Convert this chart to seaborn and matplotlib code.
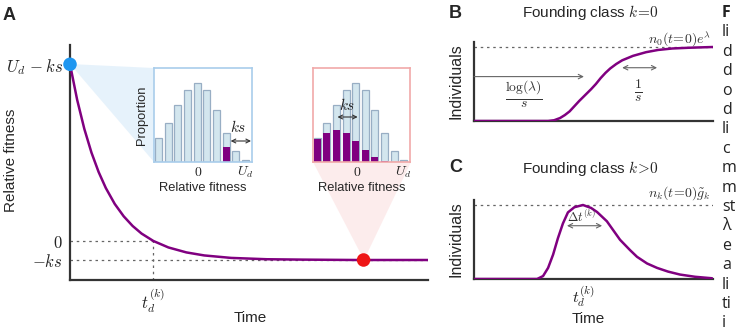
import matplotlib
matplotlib.use("Agg")
import matplotlib.pyplot as plt
from matplotlib.patches import Polygon
import seaborn as sns

# ---------------- data ----------------
# Panel A: relative fitness of the founding class over time
a_time = [0, 0.2, 0.4, 0.6, 0.8, 1.0, 1.25, 1.5, 1.75, 2.0, 2.33, 2.75, 3.25,
          3.75, 4.5, 5.5, 6.5, 8.0, 10.0]
a_fitness = [9.3, 7.43, 5.90, 4.65, 3.63, 2.79, 1.95, 1.30, 0.79, 0.39, 0.0,
             -0.34, -0.60, -0.76, -0.89, -0.96, -0.98, -1.0, -1.0]
a_dot_time = [0.0, 8.2]
a_dot_fitness = [9.3, -1.0]
a_dot_name = ["start", "late"]
a_yticks = [9.3, 0, -1]
a_yticklabels = [r"$U_d\,-ks$", r"$0$", r"$-ks$"]
a_td = 2.33

# Insets: fitness distribution (proportion per fitness bin)
bins = list(range(10))
proportion = [0.24, 0.39, 0.57, 0.72, 0.79, 0.72, 0.52, 0.29, 0.11, 0.02]
class_early = [0, 0, 0, 0, 0, 0, 0, 0.146, 0, 0]
class_late = [0.23, 0.29, 0.32, 0.29, 0.21, 0.12, 0.05, 0.01, 0, 0]
inset_ticks = [4.1, 9.0]
inset_ticklabels = [r"$0$", r"$U_d$"]

# Panel B: founding class k=0
b_time = [0, 0.31, 0.335, 0.36, 0.38, 0.40, 0.42, 0.44, 0.465, 0.49, 0.51,
          0.53, 0.55, 0.57, 0.595, 0.62, 0.665, 0.72, 0.77, 0.83, 0.9, 1.0]
b_individuals = [0, 0, 0.01, 0.04, 0.08, 0.13, 0.20, 0.27, 0.35, 0.43, 0.50,
                 0.58, 0.65, 0.71, 0.77, 0.82, 0.88, 0.93, 0.96, 0.98, 0.99, 1.0]

# Panel C: founding class k>0
c_time = [0, 0.264, 0.289, 0.310, 0.331, 0.351, 0.372, 0.393, 0.42, 0.456,
          0.49, 0.515, 0.556, 0.611, 0.653, 0.682, 0.724, 0.766, 0.812,
          0.862, 0.925, 0.996]
c_individuals = [0, 0, 0.04, 0.15, 0.33, 0.55, 0.75, 0.90, 0.97, 1.0, 0.96,
                 0.905, 0.78, 0.53, 0.39, 0.30, 0.21, 0.15, 0.10, 0.06, 0.03,
                 0.01]
c_td = 0.456

# cropped caption text visible at the right edge
caption_bits = ["F", "li", "d", "d", "o", "d", "li", "c", "m", "m", "st", "λ",
                "e", "a", "li", "ti", "i"]

# ---------------- style ----------------
sns.set_style("white")
plt.rcParams["font.family"] = ["Liberation Sans", "DejaVu Sans"]
plt.rcParams["mathtext.fontset"] = "cm"

PURPLE = "#800080"
DARK = "#333333"
GREY = "#666666"
BLUE = "#1e96f0"
RED = "#ee1515"
BAR = "#d3e6ee"
BAR_EDGE = "#98aec4"

W, H = 744, 328
fig = plt.figure(figsize=(W / 100, H / 100), dpi=100)


def rect(x0, y_top, x1, y_bot):
    return [x0 / W, 1 - y_bot / H, (x1 - x0) / W, (y_bot - y_top) / H]


def fx(x):
    return x / W


def fy(y):
    return 1 - y / H


def base_axes(ax):
    for s in ["top", "right"]:
        ax.spines[s].set_visible(False)
    for s in ["left", "bottom"]:
        ax.spines[s].set_color(DARK)
        ax.spines[s].set_linewidth(1.6)
    ax.set_facecolor("none")


# ---------------- panel A ----------------
axA = fig.add_axes(rect(70, 45, 428, 280))
base_axes(axA)
ymin, ymax = -1 - 20 / 19, -1 + 215 / 19
axA.set_xlim(0, 10)
axA.set_ylim(ymin, ymax)

# wedges connecting points to insets
blue_wedge = Polygon([(fx(70), fy(64)), (fx(154), fy(68)), (fx(154), fy(162))],
                     closed=True, transform=fig.transFigure, facecolor="#cfe6f8",
                     alpha=0.5, edgecolor="none", zorder=0.5, clip_on=False)
red_wedge = Polygon([(fx(364), fy(260)), (fx(313), fy(162)), (fx(411), fy(162))],
                    closed=True, transform=fig.transFigure, facecolor="#fbdada",
                    alpha=0.5, edgecolor="none", zorder=0.5, clip_on=False)
axA.add_patch(blue_wedge)
axA.add_patch(red_wedge)

dot_kw = dict(color=GREY, lw=0.9, ls=(0, (2, 3)), zorder=1)
axA.plot([0, 10], [-1, -1], **dot_kw)
axA.plot([0, a_td], [0, 0], **dot_kw)
axA.plot([a_td, a_td], [ymin, 0], **dot_kw)

sns.lineplot(x=a_time, y=a_fitness, ax=axA, color=PURPLE, linewidth=1.8,
             zorder=3)
sns.scatterplot(x=a_dot_time, y=a_dot_fitness, hue=a_dot_name,
                palette=[BLUE, RED], s=95, legend=False, ax=axA, zorder=5,
                clip_on=False, edgecolor="none")

axA.set_yticks(a_yticks)
axA.set_yticklabels(a_yticklabels, fontsize=12)
axA.set_xticks([a_td])
axA.set_xticklabels([r"$t_d^{(k)}$"], fontsize=12)
axA.tick_params(axis="both", length=0, colors="#222222")
axA.tick_params(axis="y", pad=5)
axA.tick_params(axis="x", pad=5)
axA.set_xlabel("")
axA.set_ylabel("")
fig.text(fx(250), fy(318), "Time", ha="center", va="center", fontsize=11)
fig.text(fx(11), fy(160), "Relative fitness", ha="center", va="center",
         rotation=90, fontsize=11)
fig.text(fx(3), fy(15), "A", ha="left", va="center", fontsize=13,
         fontweight="bold")


# ---------------- insets ----------------
def inset(box, colored, edge_color, show_ylabel):
    ax = fig.add_axes(box, zorder=6)
    ax.set_facecolor("white")
    sns.barplot(x=bins, y=proportion, ax=ax, color=BAR, edgecolor=BAR_EDGE,
                linewidth=0.9, width=0.72, saturation=1, errorbar=None)
    sns.barplot(x=bins, y=colored, ax=ax, color=PURPLE, linewidth=0,
                width=0.72, saturation=1, errorbar=None)
    ax.set_xlim(-0.45, 9.65)
    ax.set_ylim(0, 0.94)
    for s in ax.spines.values():
        s.set_visible(True)
        s.set_color(edge_color)
        s.set_linewidth(1.2)
    ax.set_yticks([])
    ax.set_xticks(inset_ticks)
    ax.set_xticklabels(inset_ticklabels, fontsize=10)
    ax.tick_params(axis="x", length=2, width=0.8, color=GREY, pad=2,
                   direction="in")
    ax.set_xlabel("Relative fitness", fontsize=9.3, labelpad=0)
    ax.xaxis.set_label_coords(0.5, -0.215)
    if show_ylabel:
        ax.set_ylabel("Proportion", fontsize=9.3)
        ax.yaxis.set_label_coords(-0.06, 0.5)
    else:
        ax.set_ylabel("")
    return ax


axI1 = inset(rect(154, 68, 252, 162), class_early, "#a9cdeb", True)
axI1.annotate("", xy=(9.55, 0.21), xytext=(7.45, 0.21),
              arrowprops=dict(arrowstyle="<->", color=DARK, lw=0.8,
                              shrinkA=0, shrinkB=0, mutation_scale=7))
axI1.text(8.2, 0.27, r"$ks$", ha="center", va="bottom", fontsize=11)

axI2 = inset(rect(313, 68, 410, 162), class_late, "#f1a9a9", False)
axI2.annotate("", xy=(4.2, 0.45), xytext=(2.1, 0.45),
              arrowprops=dict(arrowstyle="<->", color=DARK, lw=0.8,
                              shrinkA=0, shrinkB=0, mutation_scale=7))
axI2.text(3.15, 0.49, r"$ks$", ha="center", va="bottom", fontsize=11)

# ---------------- panel B ----------------
axB = fig.add_axes(rect(474, 42, 713, 121))
base_axes(axB)
axB.set_xlim(0, 1)
axB.set_ylim(0, 79 / 74)
axB.axhline(1.0, color=GREY, lw=0.9, ls=(0, (2, 3)), zorder=1)
sns.lineplot(x=b_time, y=b_individuals, ax=axB, color=PURPLE, linewidth=1.8,
             zorder=3)
axB.set_xticks([])
axB.set_yticks([])
axB.set_xlabel("")
axB.set_ylabel("Individuals", fontsize=11.5)
axB.yaxis.set_label_coords(-0.045, 0.5)
axB.annotate("", xy=(0.46, 0.6), xytext=(0.0, 0.6),
             arrowprops=dict(arrowstyle="->", color=GREY, lw=0.8,
                             shrinkA=0, shrinkB=0, mutation_scale=8))
axB.text(0.21, 0.37, r"$\frac{\log(\lambda)}{s}$", ha="center", va="center",
         fontsize=14, color="#333333")
axB.annotate("", xy=(0.766, 0.72), xytext=(0.62, 0.72),
             arrowprops=dict(arrowstyle="<->", color=GREY, lw=0.8,
                             shrinkA=0, shrinkB=0, mutation_scale=8))
axB.text(0.686, 0.40, r"$\frac{1}{s}$", ha="center", va="center",
         fontsize=14, color="#333333")
axB.text(0.99, 1.10, r"$n_0(t\!=\!0)e^{\lambda}$", ha="right", va="center",
         fontsize=10, color="#333333")
fig.text(fx(590), fy(13), r"Founding class $k\!=\!0$", ha="center",
         va="center", fontsize=11)
fig.text(fx(449), fy(13), "B", ha="left", va="center", fontsize=13,
         fontweight="bold")

# ---------------- panel C ----------------
axC = fig.add_axes(rect(474, 200, 713, 279))
base_axes(axC)
axC.set_xlim(0, 1)
axC.set_ylim(0, 79 / 74)
axC.axhline(1.0, color=GREY, lw=0.9, ls=(0, (2, 3)), zorder=1)
sns.lineplot(x=c_time, y=c_individuals, ax=axC, color=PURPLE, linewidth=1.8,
             zorder=3)
axC.set_yticks([])
axC.set_xticks([c_td])
axC.set_xticklabels([r"$t_d^{(k)}$"], fontsize=11.5)
axC.tick_params(axis="x", length=3, width=0.8, color=GREY, pad=1,
                labelcolor="#222222")
axC.set_xlabel("")
axC.set_ylabel("Individuals", fontsize=11.5)
axC.yaxis.set_label_coords(-0.045, 0.5)
axC.annotate("", xy=(0.536, 0.72), xytext=(0.389, 0.72),
             arrowprops=dict(arrowstyle="<->", color=GREY, lw=0.8,
                             shrinkA=0, shrinkB=0, mutation_scale=8))
axC.text(0.45, 0.835, r"$\Delta t^{(k)}$", ha="center", va="center",
         fontsize=9, color="#333333")
axC.text(0.99, 1.16, r"$n_k(t\!=\!0)\tilde{g}_k$", ha="right", va="center",
         fontsize=10, color="#333333")
fig.text(fx(588), fy(319), "Time", ha="center", va="center", fontsize=11)
fig.text(fx(590), fy(168), r"Founding class $k\!>\!0$", ha="center",
         va="center", fontsize=11)
fig.text(fx(449), fy(168), "C", ha="left", va="center", fontsize=13,
         fontweight="bold")

# ---------------- cropped caption at the right edge ----------------
for i, bit in enumerate(caption_bits):
    fig.text(fx(722), fy(13 + i * 19.4), bit, ha="left", va="center",
             fontsize=11.5, color="#222222",
             fontweight="bold" if i == 0 else "normal",
             family=["Open Sans", "DejaVu Sans"])

fig.savefig("out.png", dpi=100)
